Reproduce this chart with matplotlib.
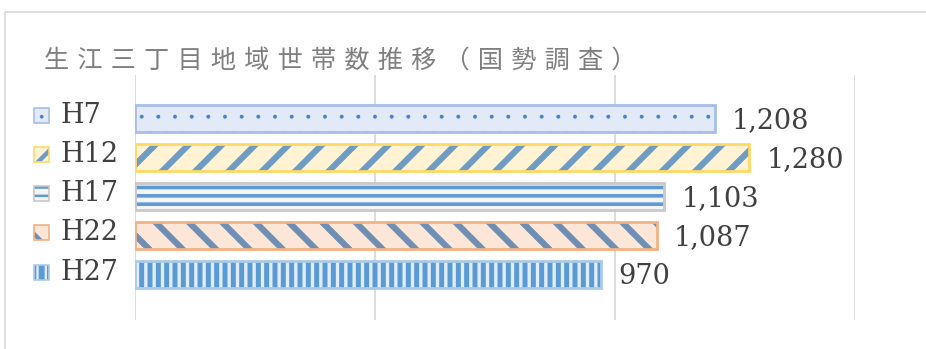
import matplotlib
matplotlib.use("Agg")
import matplotlib.pyplot as plt
from matplotlib.patches import Rectangle
from matplotlib.transforms import blended_transform_factory

# data
categories = ["H7", "H12", "H17", "H22", "H27"]
households = [1208, 1280, 1103, 1087, 970]
value_labels = ["1,208", "1,280", "1,103", "1,087", "970"]
title = "生江三丁目地域世帯数推移（国勢調査）"

# styles per bar: face, hatch colour, hatch, border, hatch linewidth
faces = ["#e3eaf7", "#fff3d4", "#f4f4f4", "#fce6d8", "#5b9bd5"]
hatch_colors = ["#4a7fcb", "#6e9cc2", "#5f9ad2", "#6f90b4", "#e2edf8"]
hatches = [".", "/", "--", "\\", "||"]
borders = ["#a7bee9", "#ffd966", "#c9c9c9", "#f4b183", "#a9cbea"]
hatch_lw = [0.4, 4.5, 2.6, 4.5, 2.4]

W, H = 926, 349
fig = plt.figure(figsize=(W / 100, H / 100), dpi=100)

# outer chart border (open to the right and bottom)
fig.add_artist(Rectangle((5 / W, -0.1), 1.2, (H - 12) / H + 0.1, transform=fig.transFigure,
                         fill=False, edgecolor="#d9d9d9", linewidth=1.2))

ax = fig.add_axes([135 / W, (H - 320) / H, 720 / W, 245 / H])
ax.set_xlim(0, 1500)
ax.set_ylim(-1.15, 5.1)
ax.set_xticks([0, 500, 1000, 1500])
ax.set_yticks([])
ax.tick_params(length=0, labelbottom=False)
for s in ax.spines.values():
    s.set_visible(False)
ax.xaxis.grid(True, color="#d9d9d9", linewidth=1.3)
ax.set_axisbelow(True)

ypos = list(range(len(categories)))[::-1]
bh = 0.69
for i, (y, v) in enumerate(zip(ypos, households)):
    with plt.rc_context({"hatch.linewidth": hatch_lw[i]}):
        bars = ax.barh(y, v, height=bh, color=faces[i], edgecolor=hatch_colors[i],
                       hatch=hatches[i], linewidth=0, zorder=2)
    for p in bars:
        if hasattr(p, "set_hatch_linewidth"):
            p.set_hatch_linewidth(hatch_lw[i])
    ax.barh(y, v, height=bh, fill=False, edgecolor=borders[i], linewidth=2.0, zorder=3)
    ax.text(v + 36, y - 0.05, value_labels[i], ha="left", va="center",
            fontsize=19.5, family="DejaVu Serif", color="#404040")

# category labels with small swatches on the left
tr = blended_transform_factory(fig.transFigure, ax.transData)
sq_w = 15 / W
sq_h = 15 / 39.25
for i, (y, c) in enumerate(zip(ypos, categories)):
    with plt.rc_context({"hatch.linewidth": hatch_lw[i] * 0.7}):
        sq = Rectangle((34 / W, y + 0.07 - sq_h / 2), sq_w, sq_h, transform=tr,
                       facecolor=faces[i], edgecolor=hatch_colors[i], hatch=hatches[i],
                       linewidth=0)
    if hasattr(sq, "set_hatch_linewidth"):
        sq.set_hatch_linewidth(hatch_lw[i] * 0.7)
    fig.add_artist(sq)
    fig.add_artist(Rectangle((34 / W, y + 0.07 - sq_h / 2), sq_w, sq_h, transform=tr,
                             fill=False, edgecolor=borders[i], linewidth=1.2))
    fig.text(60 / W, y + 0.07, c, transform=tr, ha="left", va="center",
             fontsize=19.5, family="DejaVu Serif", color="#404040")

spaced_title = "\u2004".join(title)
fig.text(44 / W, 1 - 61 / H, spaced_title, ha="left", va="center", fontsize=18.1,
         family=["Noto Sans CJK JP", "DejaVu Sans"], color="#7f7f7f")

fig.savefig("out.png", dpi=100)
